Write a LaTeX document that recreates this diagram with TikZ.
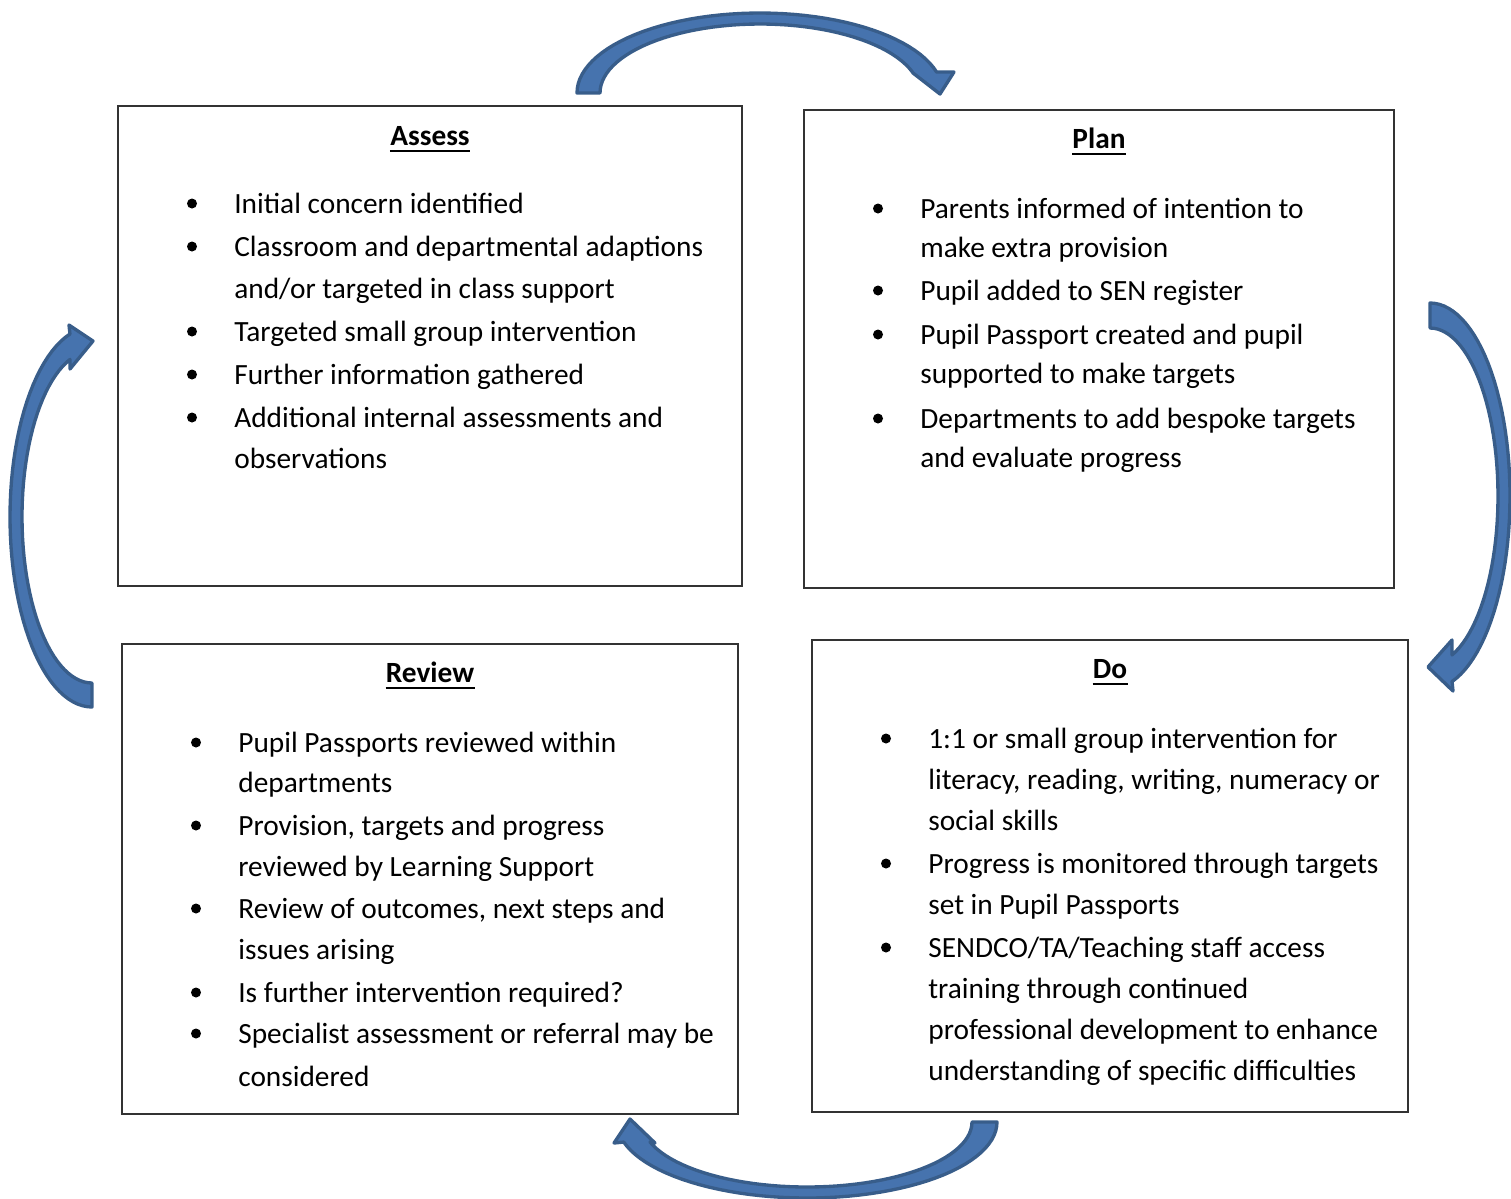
\documentclass[tikz,border=0pt]{standalone}
\usepackage{fontspec}
\setmainfont{Carlito}
\newcommand{\bodysize}{\fontsize{16.7}{20}\selectfont}
\definecolor{arrowblue}{HTML}{4673AE}
\definecolor{arrowedge}{HTML}{385D8A}
\tikzset{
    box/.style={draw=black!80, line width=0.8pt, inner sep=0pt},
    heading/.style={font=\bodysize\bfseries, inner sep=0pt, anchor=base},
    txt/.style={inner sep=0pt, anchor=base west},
    dot/.style={circle, fill=black, inner sep=0pt, minimum size=0.2cm},
    uline/.style={line width=1.1pt},
    cyclearrow/.style={fill=arrowblue, draw=arrowedge, line width=1.9pt, line join=round},
}
\begin{document}
\begin{tikzpicture}[x=0.02cm, y=-0.02cm, font=\bodysize]
    \useasboundingbox (0,0) rectangle (1511,1198);

    % Define the four boxes
    \node[box, minimum width=12.48cm, minimum height=9.6cm] (assess) at (430,346) {};
    \node[box, minimum width=11.8cm, minimum height=9.56cm] (plan) at (1099,349) {};
    \node[box, minimum width=12.32cm, minimum height=9.4cm] (review) at (430,879) {};
    \node[box, minimum width=11.92cm, minimum height=9.44cm] (do) at (1110,876) {};

    % Headings
    \node[heading] (assess-t) at (430,145) {Assess};
    \node[heading] (plan-t) at (1099,148) {Plan};
    \node[heading] (review-t) at (430,682) {Review};
    \node[heading] (do-t) at (1110,678) {Do};
    \foreach \n in {assess-t, plan-t, review-t, do-t}
        \draw[uline] ([yshift=-3.5pt]\n.base west) -- ([yshift=-3.5pt]\n.base east);

    % Assess
    \foreach \y/\t [count=\i] in {213/{Initial concern identified},
        256/{Classroom and departmental adaptions},
        298/{and/or targeted in class support},
        341/{Targeted small group intervention},
        384/{Further information gathered},
        427/{Additional internal assessments and},
        468/{observations}}
        \node[txt] (assess-l\i) at (234,\y) {\t};
    \foreach \y [count=\i] in {213,256,341,384,427}
        \node[dot] (assess-b\i) at (192,\y-9.5) {};

    % Plan
    \foreach \y/\t [count=\i] in {218/{Parents informed of intention to},
        257/{make extra provision},
        300/{Pupil added to SEN register},
        344/{Pupil Passport created and pupil},
        383/{supported to make targets},
        428/{Departments to add bespoke targets},
        467/{and evaluate progress}}
        \node[txt] (plan-l\i) at (920,\y) {\t};
    \foreach \y [count=\i] in {218,300,344,428}
        \node[dot] (plan-b\i) at (878,\y-9.5) {};

    % Review
    \foreach \y/\t [count=\i] in {752/{Pupil Passports reviewed within},
        792/{departments},
        835/{Provision, targets and progress},
        876/{reviewed by Learning Support},
        918/{Review of outcomes, next steps and},
        959/{issues arising},
        1002/{Is further intervention required?},
        1043/{Specialist assessment or referral may be},
        1086/{considered}}
        \node[txt] (review-l\i) at (238,\y) {\t};
    \foreach \y [count=\i] in {752,835,918,1002,1043}
        \node[dot] (review-b\i) at (196,\y-9.5) {};

    % Do
    \foreach \y/\t [count=\i] in {748/{1:1 or small group intervention for},
        789/{literacy, reading, writing, numeracy or},
        830/{social skills},
        873/{Progress is monitored through targets},
        914/{set in Pupil Passports},
        957/{SENDCO/TA/Teaching staff access},
        998/{training through continued},
        1039/{professional development to enhance},
        1080/{understanding of specific difficulties}}
        \node[txt] (do-l\i) at (928,\y) {\t};
    \foreach \y [count=\i] in {748,873,957}
        \node[dot] (do-b\i) at (886,\y-9.5) {};

    % Draw the cycle arrows
    % assess -> plan
    \draw[cyclearrow] plot[domain=180:15.2, samples=50] ({760+183*cos(\x)},{93-80*sin(\x)})
        -- (954,72) -- (940,94) -- (913,73)
        -- plot[domain=17.7:180, samples=50] ({760+160*cos(\x)},{93-69*sin(\x)}) -- cycle;
    % plan -> do
    \draw[cyclearrow] plot[domain=90:-74, samples=50] ({1430+80*cos(\x)},{496-193*sin(\x)})
        -- (1453,691) -- (1428,667) -- (1452,640)
        -- plot[domain=-71.1:90, samples=50] ({1430+68*cos(\x)},{496-168*sin(\x)}) -- cycle;
    % do -> review
    \draw[cyclearrow] plot[domain=0:164.7, samples=50] ({807+190*cos(\x)},{1122+76*sin(\x)})
        -- (614,1143) -- (630,1119) -- (655,1143)
        -- plot[domain=162.1:0, samples=50] ({807+165*cos(\x)},{1122+65*sin(\x)}) -- cycle;
    % review -> assess
    \draw[cyclearrow] plot[domain=270:105.6, samples=50] ({92+82*cos(\x)},{517-190*sin(\x)})
        -- (69,325) -- (93,341) -- (70,369)
        -- plot[domain=108.3:270, samples=50] ({92+70*cos(\x)},{517-166*sin(\x)}) -- cycle;
\end{tikzpicture}
\end{document}
